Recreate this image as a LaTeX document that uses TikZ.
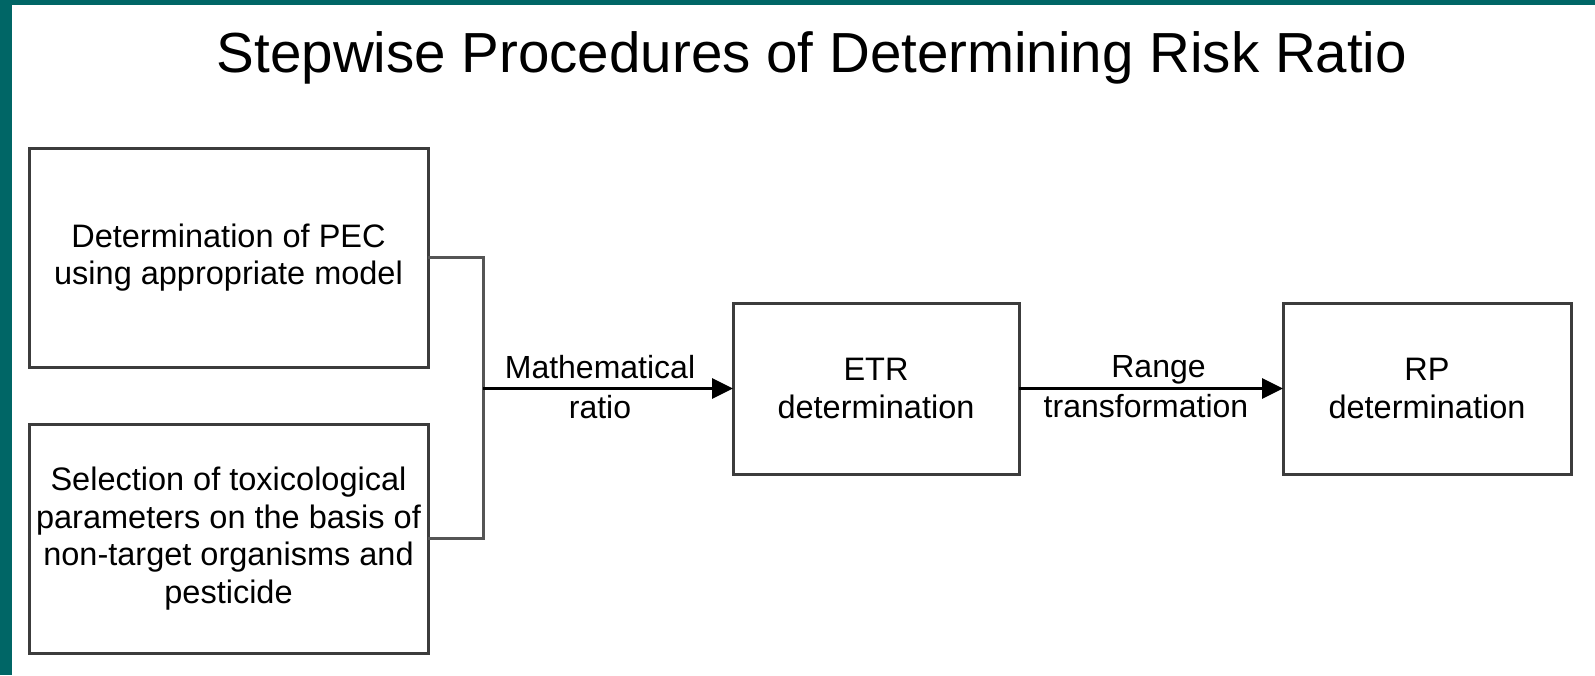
\documentclass[tikz,border=0pt]{standalone}
\usepackage{fontspec}
\setmainfont{Liberation Sans}
\usetikzlibrary{arrows.meta}

\definecolor{frameteal}{RGB}{0,102,102}
\definecolor{boxline}{RGB}{60,60,60}
\definecolor{linkline}{RGB}{85,85,85}

\tikzset{
  stepbox/.style={draw=boxline, line width=3pt, fill=white, align=center,
    inner sep=0pt, outer sep=0pt,
    font=\fontsize{32.5}{37.5}\selectfont},
  link/.style={draw=linkline, line width=3pt},
  flow/.style={draw=black, line width=3pt,
    -{Triangle[length=21pt,width=20pt]}},
  flowlabel/.style={align=center, inner sep=0pt,
    font=\fontsize{32}{40}\selectfont, yshift=1.5pt},
}

\begin{document}
\begin{tikzpicture}[x=1pt, y=-1pt]
  \useasboundingbox (0,0) rectangle (1595,675);
  % page background and frame bands
  \fill[white] (0,0) rectangle (1595,675);
  \fill[frameteal] (0,0) rectangle (1595,5);
  \fill[frameteal] (0,0) rectangle (12,675);

  % heading
  \node[anchor=base, inner sep=0pt, font=\fontsize{56.5}{60}\selectfont]
    (title) at (812,72) {Stepwise Procedures of Determining Risk Ratio};

  % input boxes
  \node[stepbox, minimum width=399pt, minimum height=219pt]
    (pec) at (228.5,257.5) {Determination of PEC\\using appropriate model};
  \node[stepbox, minimum width=399pt, minimum height=229pt]
    (tox) at (228.5,538.5) {Selection of toxicological\\parameters on the basis of\\non-target organisms and\\pesticide};

  % result boxes
  \node[stepbox, minimum width=286pt, minimum height=171pt]
    (etr) at (876,388.5) {ETR\\determination};
  \node[stepbox, minimum width=288pt, minimum height=171pt]
    (rp) at (1427,388.5) {RP\\determination};

  % merging the two inputs
  \coordinate (join) at (483,388.5);
  \draw[link] (pec.east) -| (join);
  \draw[link] (tox.east) -| (join);

  % flow arrows with their labels
  \draw[flow] (join) -- node[flowlabel, midway, xshift=-8pt] (mathlbl)
    {Mathematical\\ratio} (etr.west);
  \draw[flow] (etr.east) -- node[flowlabel, midway, xshift=-5pt] (rangelbl)
    {\hspace*{25pt}Range\\transformation} (rp.west);
\end{tikzpicture}
\end{document}
